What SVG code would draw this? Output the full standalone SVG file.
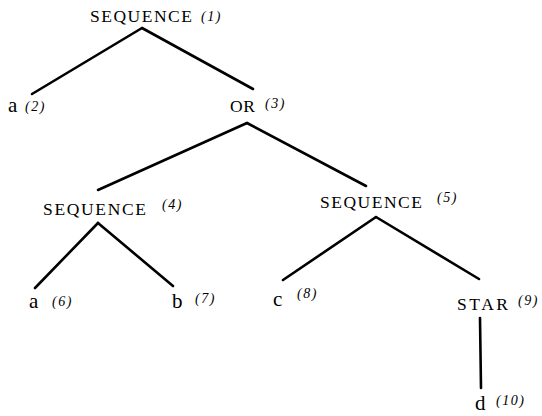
<svg xmlns="http://www.w3.org/2000/svg" width="542" height="416" viewBox="0 0 542 416">
<style>
.t{font-family:"Liberation Serif","Times New Roman",serif;font-size:17.5px;fill:#000}
.l{font-family:"Liberation Serif","Times New Roman",serif;font-size:21px;fill:#000}
.n{font-family:"Liberation Serif","Times New Roman",serif;font-style:italic;font-size:14px;letter-spacing:1.5px;fill:#000}
.e{stroke:#000;stroke-width:2.6;stroke-linecap:round;fill:none}
</style>
<rect width="542" height="416" fill="#fff"/>
<g id="connectors">
<line class="e" x1="142" y1="28" x2="32" y2="94"/>
<line class="e" x1="142" y1="28" x2="253" y2="89"/>
<line class="e" x1="247" y1="123" x2="98" y2="190"/>
<line class="e" x1="247" y1="123" x2="366" y2="186"/>
<line class="e" x1="98" y1="223" x2="35" y2="288"/>
<line class="e" x1="98" y1="223" x2="173" y2="286"/>
<line class="e" x1="376" y1="217" x2="283" y2="280"/>
<line class="e" x1="376" y1="217" x2="479" y2="279"/>
<line class="e" x1="480" y1="318" x2="481" y2="388"/>
</g>
<g id="n1"><text class="t" x="90" y="22" textLength="102" lengthAdjust="spacing">SEQUENCE</text><text class="n" x="201" y="21">(1)</text></g>
<g id="n2"><text class="l" x="8" y="112">a</text><text class="n" x="25" y="111">(2)</text></g>
<g id="n3"><text class="t" x="230" y="112" textLength="25" lengthAdjust="spacing">OR</text><text class="n" x="265" y="108">(3)</text></g>
<g id="n4"><text class="t" x="43" y="215" textLength="103" lengthAdjust="spacing">SEQUENCE</text><text class="n" x="162" y="209">(4)</text></g>
<g id="n5"><text class="t" x="320" y="208" textLength="102" lengthAdjust="spacing">SEQUENCE</text><text class="n" x="437" y="202">(5)</text></g>
<g id="n6"><text class="l" x="29" y="308">a</text><text class="n" x="52" y="306">(6)</text></g>
<g id="n7"><text class="l" x="172" y="308">b</text><text class="n" x="195" y="303">(7)</text></g>
<g id="n8"><text class="l" x="273" y="306">c</text><text class="n" x="297" y="298">(8)</text></g>
<g id="n9"><text class="t" x="457" y="310" textLength="51" lengthAdjust="spacing">STAR</text><text class="n" x="518" y="305">(9)</text></g>
<g id="n10"><text class="l" x="475" y="410">d</text><text class="n" x="496" y="405">(10)</text></g>
</svg>
